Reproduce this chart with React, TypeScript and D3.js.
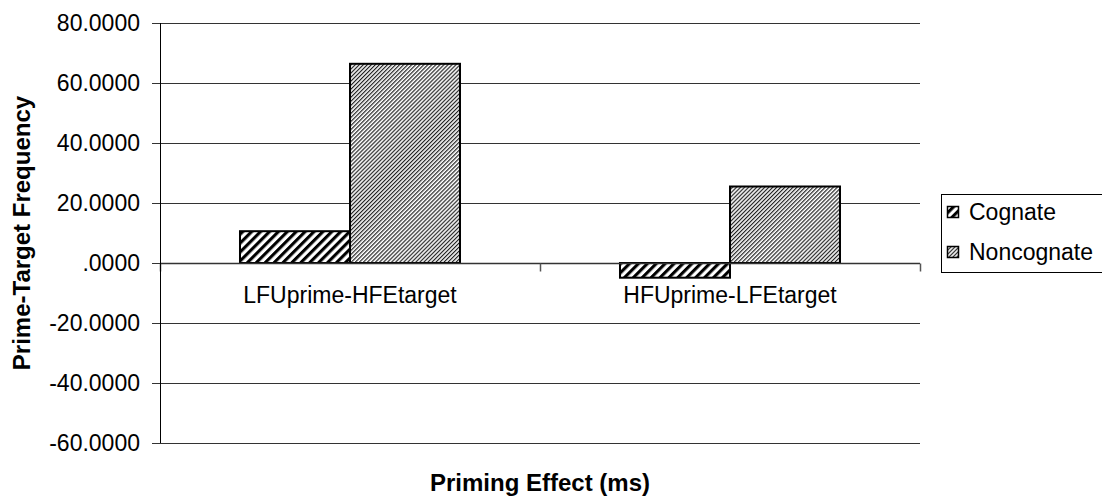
import React, { useEffect, useRef } from 'react';
import * as d3 from 'd3';

const categories = ['LFUprime-HFEtarget', 'HFUprime-LFEtarget'];
const seriesNames = ['Cognate', 'Noncognate'];
const cognate = [10.6, -4.9];
const noncognate = [66.4, 25.5];
const yTicks = [80, 60, 40, 20, 0, -20, -40, -60];
const yTickLabels = ['80.0000', '60.0000', '40.0000', '20.0000', '.0000', '-20.0000', '-40.0000', '-60.0000'];

const App = () => {
  const ref = useRef<SVGSVGElement>(null);

  useEffect(() => {
    const width = 1102;
    const height = 497;
    const marginLeft = 160;
    const marginRight = 182;
    const marginTop = 23;
    const marginBottom = 54;
    const font = '"Liberation Sans", Arial, sans-serif';

    const svg = d3.select(ref.current);
    svg.selectAll('*').remove();

    const defs = svg.append('defs');
    // wide black stripes for Cognate
    const p1 = defs.append('pattern')
      .attr('id', 'pat-cog')
      .attr('patternUnits', 'userSpaceOnUse')
      .attr('width', 6.3)
      .attr('height', 10)
      .attr('patternTransform', 'rotate(45)');
    p1.append('rect').attr('width', 6.3).attr('height', 10).attr('fill', 'white');
    p1.append('rect').attr('width', 3.1).attr('height', 10).attr('fill', 'black');

    // fine stripes for Noncognate
    const p2 = defs.append('pattern')
      .attr('id', 'pat-non')
      .attr('patternUnits', 'userSpaceOnUse')
      .attr('width', 2.85)
      .attr('height', 10)
      .attr('patternTransform', 'rotate(45)');
    p2.append('rect').attr('width', 2.85).attr('height', 10).attr('fill', 'white');
    p2.append('rect').attr('width', 1.2).attr('height', 10).attr('fill', '#222');

    const patterns = ['url(#pat-cog)', 'url(#pat-non)'];

    const x0 = d3.scaleBand<string>()
      .domain(categories)
      .range([marginLeft, width - marginRight]);

    const x1 = d3.scaleBand<string>()
      .domain(seriesNames)
      .range([0, x0.bandwidth()])
      .paddingOuter(0.7272);

    const y = d3.scaleLinear()
      .domain([-60, 80])
      .range([height - marginBottom, marginTop]);

    // gridlines
    svg.append('g')
      .selectAll('line')
      .data(yTicks)
      .join('line')
      .attr('x1', marginLeft - 8)
      .attr('x2', width - marginRight)
      .attr('y1', d => Math.round(y(d)) + 0.5)
      .attr('y2', d => Math.round(y(d)) + 0.5)
      .attr('stroke', '#333')
      .attr('stroke-width', 1);

    // tick labels
    svg.append('g')
      .selectAll('text')
      .data(yTicks)
      .join('text')
      .attr('x', marginLeft - 20)
      .attr('y', d => y(d))
      .attr('dy', '0.36em')
      .attr('text-anchor', 'end')
      .attr('font-family', font)
      .attr('font-size', 23)
      .attr('fill', '#000')
      .text((d, i) => yTickLabels[i]);

    // bars
    const data = [cognate, noncognate];
    categories.forEach((c, ci) => {
      seriesNames.forEach((s, si) => {
        const v = data[si][ci];
        svg.append('rect')
          .attr('x', x0(c)! + x1(s)!)
          .attr('y', y(Math.max(0, v)))
          .attr('width', x1.bandwidth())
          .attr('height', Math.abs(y(v) - y(0)))
          .attr('fill', patterns[si])
          .attr('stroke', '#000')
          .attr('stroke-width', 2);
      });
    });

    // zero axis with category ticks
    const y0 = Math.round(y(0)) + 0.5;
    svg.append('line')
      .attr('x1', marginLeft)
      .attr('x2', width - marginRight)
      .attr('y1', y0)
      .attr('y2', y0)
      .attr('stroke', '#333')
      .attr('stroke-width', 1.5);
    const catEdges = [marginLeft, ...categories.map(c => x0(c)! + x0.bandwidth())];
    svg.append('g')
      .selectAll('line')
      .data(catEdges)
      .join('line')
      .attr('x1', d => d + 0.5)
      .attr('x2', d => d + 0.5)
      .attr('y1', y0)
      .attr('y2', y0 + 8)
      .attr('stroke', '#555')
      .attr('stroke-width', 1.5);

    // y axis line
    svg.append('line')
      .attr('x1', marginLeft + 0.5)
      .attr('x2', marginLeft + 0.5)
      .attr('y1', y(80))
      .attr('y2', y(-60))
      .attr('stroke', '#000')
      .attr('stroke-width', 1);

    // category labels
    svg.append('g')
      .selectAll('text')
      .data(categories)
      .join('text')
      .attr('x', d => x0(d)! + x0.bandwidth() / 2)
      .attr('y', 303)
      .attr('text-anchor', 'middle')
      .attr('font-family', font)
      .attr('font-size', 23)
      .attr('fill', '#000')
      .text(d => d);

    // axis titles
    svg.append('text')
      .attr('x', (marginLeft + width - marginRight) / 2)
      .attr('y', 491)
      .attr('text-anchor', 'middle')
      .attr('font-family', font)
      .attr('font-size', 24)
      .attr('font-weight', 'bold')
      .text('Priming Effect (ms)');

    svg.append('text')
      .attr('transform', `translate(30,${(y(80) + y(-60)) / 2}) rotate(-90)`)
      .attr('text-anchor', 'middle')
      .attr('font-family', font)
      .attr('font-size', 24)
      .attr('font-weight', 'bold')
      .text('Prime-Target Frequency');

    // legend
    const legend = svg.append('g');
    legend.append('rect')
      .attr('x', 941.5)
      .attr('y', 194.5)
      .attr('width', 180)
      .attr('height', 78)
      .attr('fill', 'white')
      .attr('stroke', '#000')
      .attr('stroke-width', 1);
    seriesNames.forEach((s, i) => {
      const by = 220 + i * 40;
      legend.append('rect')
        .attr('x', 947.5)
        .attr('y', by - 13.5)
        .attr('width', 11)
        .attr('height', 11)
        .attr('fill', patterns[i])
        .attr('stroke', '#000')
        .attr('stroke-width', 1.5);
      legend.append('text')
        .attr('x', 969)
        .attr('y', by)
        .attr('font-family', font)
        .attr('font-size', 23)
        .attr('fill', '#000')
        .text(s);
    });
  }, []);

  return (
    <svg
      ref={ref}
      width={1102}
      height={497}
      style={{ position: 'absolute', left: 0, top: 0, background: 'white' }}
    />
  );
};

export default App;
